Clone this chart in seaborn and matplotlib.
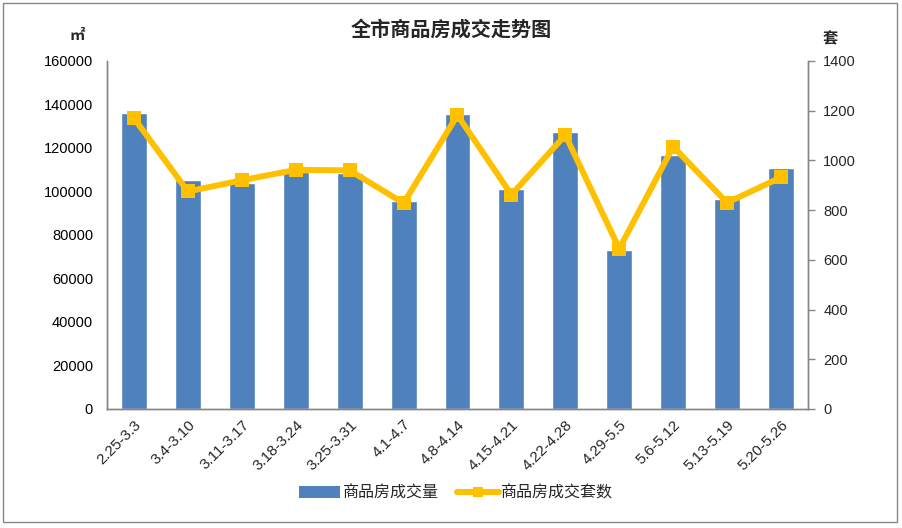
import matplotlib
matplotlib.use("Agg")
import matplotlib.pyplot as plt
import seaborn as sns
import pandas as pd
import numpy as np
from matplotlib.patches import Rectangle
from matplotlib.lines import Line2D
from matplotlib.patches import Patch

categories = ["2.25-3.3", "3.4-3.10", "3.11-3.17", "3.18-3.24", "3.25-3.31", "4.1-4.7",
              "4.8-4.14", "4.15-4.21", "4.22-4.28", "4.29-5.5", "5.6-5.12", "5.13-5.19", "5.20-5.26"]
area = [136000, 105500, 104000, 109000, 108500, 95500, 135500, 101000, 127500, 73000, 117000, 96500, 111000]
units = [1170, 875, 920, 962, 960, 828, 1182, 862, 1102, 645, 1055, 830, 932]

bar_name = "商品房成交量"
line_name = "商品房成交套数"

sns.set_theme(style="white")
plt.rcParams['font.family'] = ['Noto Sans CJK SC', 'DejaVu Sans']

df = pd.DataFrame({"period": categories, "area": area, "units": units})

fig = plt.figure(figsize=(9.02, 5.28), dpi=100)
ax = fig.add_axes([0.1186, 0.2254, 0.7772, 0.6591])

sns.barplot(data=df, x="period", y="area", color="#4F81BD", saturation=1,
            width=0.48, ax=ax, zorder=2)
ax.set_ylim(0, 160000)
ax.set_yticks(np.arange(0, 160001, 20000))
ax.set_xlim(-0.5, len(categories) - 0.5)

ax2 = ax.twinx()
sns.lineplot(x=np.arange(len(categories)), y=df["units"], ax=ax2, color="#FFC000",
             linewidth=4.3, marker="s", markersize=10, markeredgewidth=0, zorder=3)
ax2.set_ylim(0, 1400)
ax2.set_yticks(np.arange(0, 1401, 200))
ax2.set_xlim(-0.5, len(categories) - 0.5)

for a in (ax, ax2):
    a.set_xlabel("")
    a.set_ylabel("")
    a.grid(False)
    for s in a.spines.values():
        s.set_color("#868686")
        s.set_linewidth(1)
    a.spines["top"].set_visible(False)

ax.tick_params(axis="y", length=0, pad=10, labelsize=10.5, labelcolor="black")
ax.set_yticklabels([str(v) for v in range(0, 160001, 20000)], family=["Liberation Sans"])
ax.tick_params(axis="x", length=0, pad=6)
ax.set_xticks(range(len(categories)))
ax.set_xticklabels(categories, rotation=45, ha="right", rotation_mode="anchor",
                   fontsize=11, family=["Liberation Sans"])
ax2.tick_params(axis="y", length=5, width=1, color="#868686", pad=6, labelsize=10.5, direction="out")
ax2.set_yticklabels([str(v) for v in range(0, 1401, 200)], family=["Liberation Sans"])

fig.text(0.5, 0.945, "全市商品房成交走势图", ha="center", va="center", fontsize=14.5,
         fontweight="bold")
fig.text(0.085, 0.933, "㎡", ha="center", va="center", fontsize=11, fontweight="bold")
fig.text(0.921, 0.928, "套", ha="center", va="center", fontsize=11, fontweight="bold")

handles = [Patch(facecolor="#4F81BD", edgecolor="none"),
           Line2D([0], [0], color="#FFC000", linewidth=4.3, marker="s", markersize=7,
                  markeredgewidth=0)]
fig.legend(handles, [bar_name, line_name], loc="center", bbox_to_anchor=(0.505, 0.066),
           ncol=2, frameon=False, fontsize=11.5, handlelength=2.6, handletextpad=0.1,
           columnspacing=1.2)

fig.patches.append(Rectangle((0.003, 0.012), 0.991, 0.983, transform=fig.transFigure,
                             fill=False, edgecolor="#868686", linewidth=1))

fig.savefig("out.png", dpi=100)
